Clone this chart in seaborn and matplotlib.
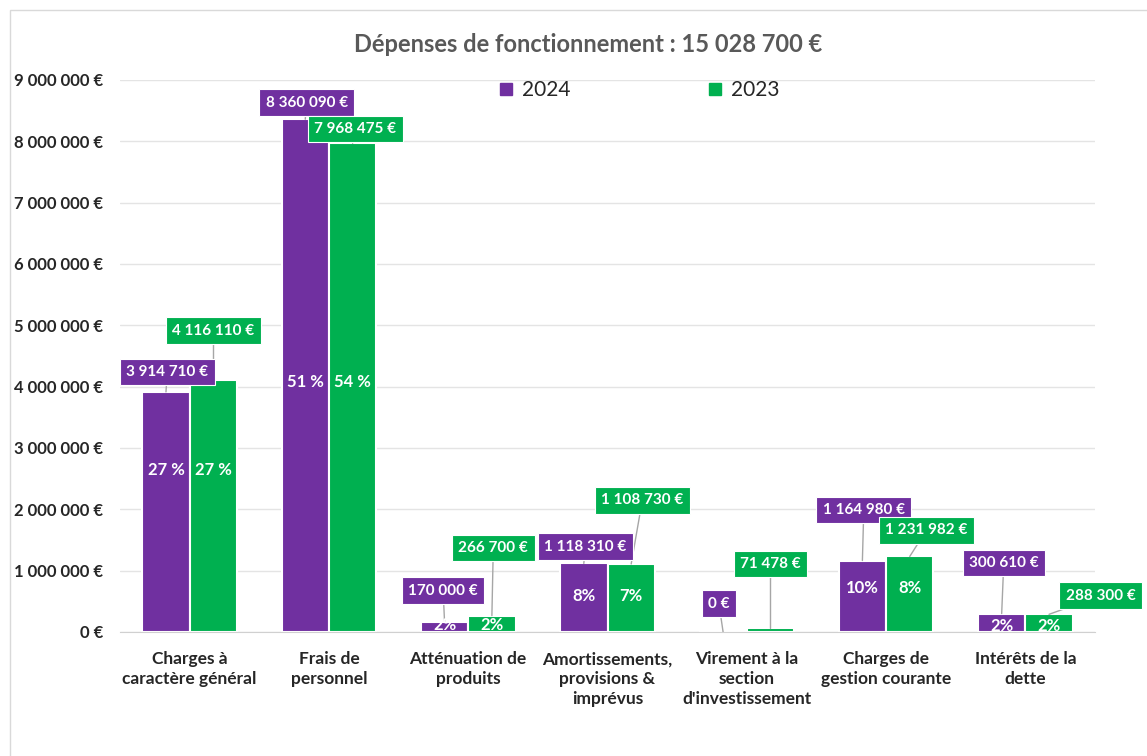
import numpy as np
import pandas as pd
import matplotlib
matplotlib.use("Agg")
import matplotlib.pyplot as plt
from matplotlib.lines import Line2D
from matplotlib.patches import Rectangle
import seaborn as sns

# data
categories = ["Charges à\ncaractère général", "Frais de\npersonnel", "Atténuation de\nproduits",
              "Amortissements,\nprovisions &\nimprévus", "Virement à la\nsection\nd'investissement",
              "Charges de\ngestion courante", "Intérêts de la\ndette"]
years = ["2024", "2023"]
values_2024 = [3914710, 8360090, 170000, 1118310, 0, 1164980, 300610]
values_2023 = [4116110, 7968475, 266700, 1108730, 71478, 1231982, 288300]
pct_2024 = ["27 %", "51 %", "2%", "8%", "", "10%", "2%"]
pct_2023 = ["27 %", "54 %", "2%", "7%", "", "8%", "2%"]
title = "Dépenses de fonctionnement : 15 028 700 €"

# label box placement (x offset from category centre, y in data units) - hand placed like in Excel
lab_dx_2024 = [-0.16, -0.16, -0.18, -0.16, -0.20, -0.16, -0.155]
lab_y_2024 = [4.24e6, 8.63e6, 0.67e6, 1.39e6, 0.46e6, 1.99e6, 1.125e6]
lab_dx_2023 = [0.17, 0.19, 0.18, 0.25, 0.17, 0.29, 0.54]
lab_y_2023 = [4.91e6, 8.20e6, 1.37e6, 2.15e6, 1.11e6, 1.66e6, 0.59e6]
pct_y = [2.64e6, 4.08e6, 0.11e6, 0.59e6, 0, 0.72e6, 0.10e6]

purple = "#7030A0"
green = "#00B050"

df = pd.DataFrame({
    "cat": categories * 2,
    "year": [years[0]] * 7 + [years[1]] * 7,
    "value": values_2024 + values_2023,
})

def euro(v):
    return f"{v:,.0f}".replace(",", " ") + " €"

sns.set_style("white")
plt.rcParams["font.family"] = ["Lato", "DejaVu Sans"]

fig = plt.figure(figsize=(11.47, 7.56), dpi=100)
ax = fig.add_axes([120 / 1147, 1 - 632 / 756, 975 / 1147, 552 / 756])

sns.barplot(data=df, x="cat", y="value", hue="year", palette=[purple, green],
            saturation=1, width=0.68, edgecolor="white", linewidth=1.5, ax=ax,
            legend=False)

ax.set_ylim(0, 9e6)
ax.set_xlim(-0.5, 6.5)
ax.set_yticks(np.arange(0, 9e6 + 1, 1e6))
ax.set_yticklabels([euro(v) for v in np.arange(0, 9e6 + 1, 1e6)], fontsize=12,
                   fontweight="bold")
ax.tick_params(axis="y", length=0, pad=12)
ax.yaxis.grid(True, color="#E4E4E4", linewidth=1)
ax.set_axisbelow(True)
for s in ["left", "right", "top"]:
    ax.spines[s].set_visible(False)
ax.spines["bottom"].set_color("#D0D0D0")
ax.set_xlabel("")
ax.set_ylabel("")
ax.set_xticks(range(7))
ax.set_xticklabels(categories, fontsize=12.5, fontweight="bold", linespacing=1.3)
ax.tick_params(axis="x", length=0, pad=14)
ax.set_xticks(np.arange(-0.5, 7, 1), minor=True)
ax.tick_params(axis="x", which="minor", length=12, color="#D0D0D0", width=1)

# data labels
for cont, color, dxs, ys, pcts in [
    (ax.containers[0], purple, lab_dx_2024, lab_y_2024, pct_2024),
    (ax.containers[1], green, lab_dx_2023, lab_y_2023, pct_2023),
]:
    for i, bar in enumerate(cont):
        bx = bar.get_x() + bar.get_width() / 2
        top = bar.get_height()
        lx = i + dxs[i]
        ax.plot([lx, bx], [ys[i], top], color="#A6A6A6", lw=1, zorder=3)
        ax.text(lx, ys[i], euro(top), ha="center", va="center", color="white",
                fontsize=11, fontweight="bold", zorder=5,
                bbox=dict(boxstyle="square,pad=0.42", fc=color, ec="white", lw=0.8))
        if pcts[i]:
            ax.text(bx, pct_y[i], pcts[i], ha="center", va="center", color="white",
                    fontsize=12, fontweight="bold", zorder=4)

handles = [Line2D([], [], marker="s", color=c, linestyle="", markersize=9) for c in [purple, green]]
ax.legend(handles, years, loc="center", bbox_to_anchor=(0.532, 0.982), ncol=2,
          frameon=False, fontsize=15, columnspacing=6.5, handletextpad=0.4,
          handlelength=0.8)

fig.text(0.513, 1 - 45 / 756, title, ha="center", va="center", fontsize=17,
         fontweight="bold", color="#595959")

fig.patches.append(Rectangle((10 / 1147, -0.01), 1.2, 1 - 10 / 756 + 0.01,
                             transform=fig.transFigure, fill=False,
                             ec="#D9D9D9", lw=1))

fig.savefig("out.png", dpi=100)
